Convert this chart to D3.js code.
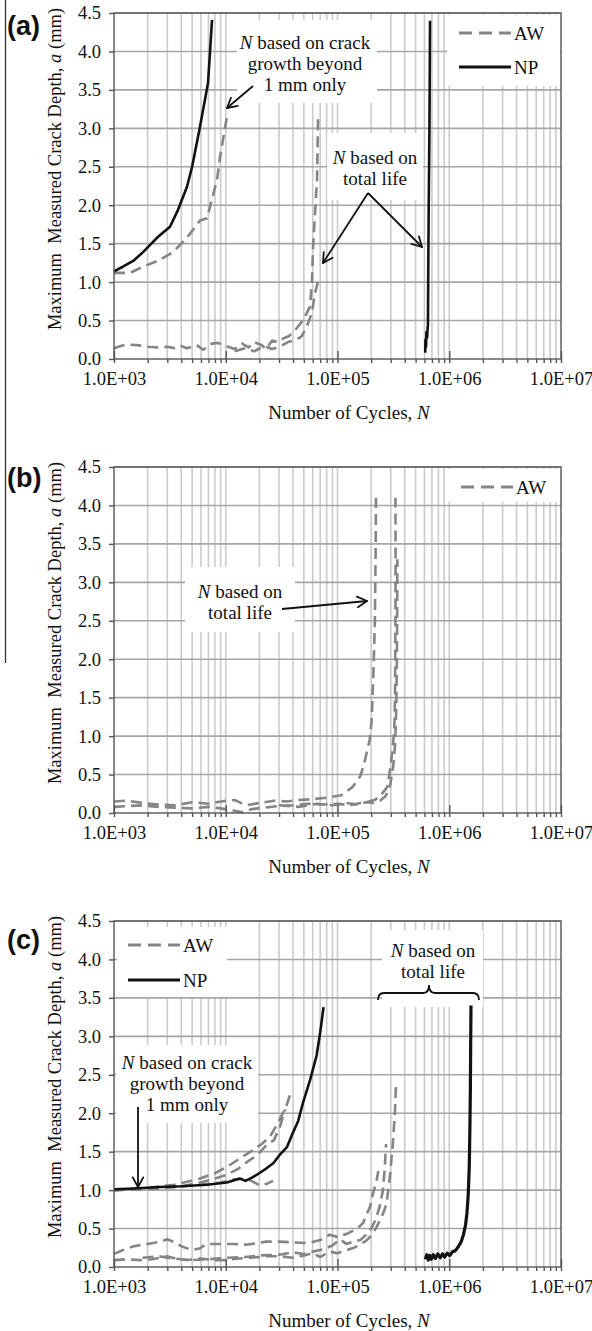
<!DOCTYPE html>
<html><head><meta charset="utf-8">
<script src="https://cdn.jsdelivr.net/npm/d3@7"></script>
<style>
body{margin:0;background:#fff}
svg{display:block}
svg text{font-family:'Liberation Serif','Times New Roman',serif;fill:#111}
svg text.plabel{font-family:'Liberation Sans',Arial,sans-serif;font-weight:bold}
</style>
</head><body><div id="chart"></div>
<script>
// ---- axis ticks ----
const xTicks = [1e3, 1e4, 1e5, 1e6, 1e7];
const xTickLabels = ["1.0E+03", "1.0E+04", "1.0E+05", "1.0E+06", "1.0E+07"];
const yTicks = [0, 0.5, 1, 1.5, 2, 2.5, 3, 3.5, 4, 4.5];
const yTickLabels = ["0.0", "0.5", "1.0", "1.5", "2.0", "2.5", "3.0", "3.5", "4.0", "4.5"];

// ---- panel (a): [cycles N, crack depth a (mm)] ----
const npA_growth = [[1000,1.14],[1200,1.2],[1500,1.28],[1820,1.39],[2480,1.59],[3170,1.72],[3740,1.94],[4500,2.24],[5000,2.5],[5880,3.02],[6940,3.59],[7540,4.41]];
const awA_growth = [[1000,1.12],[1390,1.12],[1820,1.2],[2580,1.29],[3370,1.39],[4320,1.55],[5100,1.68],[5880,1.8],[6800,1.83],[7500,2.07],[8350,2.33],[8900,2.63],[10300,3.17]];
const awA_total1 = [[1000,0.14],[1150,0.17],[1300,0.19],[1600,0.18],[2000,0.16],[2500,0.15],[3000,0.16],[3500,0.14],[4000,0.17],[4500,0.14],[5500,0.18],[6300,0.12],[7500,0.2],[8500,0.21],[10000,0.17],[12000,0.13],[14000,0.2],[16000,0.15],[18000,0.22],[21000,0.18],[23000,0.13],[26000,0.24],[29000,0.22],[33000,0.27],[37000,0.3],[42000,0.38],[49000,0.5],[56800,0.68],[59200,1.03],[60500,1.46],[62900,1.9],[65600,2.33],[67000,3.15]];
const awA_total2 = [[12000,0.1],[15000,0.14],[18000,0.1],[22000,0.17],[26000,0.13],[30500,0.16],[36000,0.22],[43000,0.25],[48000,0.3],[53000,0.42],[59000,0.6],[63000,0.86],[67500,1.03]];
const npA_total = [[610000,0.08],[612000,0.25],[620000,0.16],[625000,0.35],[635000,0.28],[640000,0.4],[645000,0.44],[648000,1.0],[655000,2.0],[665000,3.0],[673000,4.4]];

// ---- panel (b) ----
const awB1 = [[1000,0.15],[1300,0.16],[1800,0.13],[2500,0.11],[3500,0.1],[5000,0.14],[7000,0.12],[9000,0.15],[12000,0.17],[15000,0.1],[20000,0.13],[27000,0.16],[35000,0.15],[45000,0.17],[60000,0.18],[80000,0.2],[108000,0.23],[137000,0.34],[160000,0.48],[173000,0.64],[194000,0.95],[202000,1.2],[210000,1.86],[216000,2.5],[219000,3.3],[221000,4.1]];
const awB2 = [[1000,0.08],[1300,0.09],[1800,0.1],[2500,0.08],[3500,0.07],[5000,0.06],[7000,0.08],[9000,0.06],[12000,0.03],[14000,0.01],[17000,0.05],[22000,0.07],[30000,0.09],[40000,0.1],[55000,0.12],[75000,0.11],[100000,0.12],[130000,0.1],[160000,0.13],[190000,0.15],[215000,0.17],[236000,0.21],[260000,0.28],[279000,0.34],[298000,0.6],[312000,0.85],[322000,1.08],[327000,1.5],[330000,2.5],[331000,3.3],[330000,4.1]];
const awB3 = [[30000,0.1],[45000,0.08],[65000,0.12],[90000,0.1],[120000,0.13],[150000,0.11],[180000,0.14],[210000,0.13],[240000,0.16],[270000,0.22],[295000,0.35],[315000,0.6],[328000,0.9],[336000,1.4],[340000,2.0],[342000,2.6],[343000,3.3]];

// ---- panel (c) ----
const npC_growth = [[1000,1.01],[1500,1.02],[2580,1.04],[4000,1.05],[6800,1.07],[10200,1.1],[13400,1.15],[15000,1.12],[17000,1.16],[19000,1.2],[23000,1.28],[26600,1.35],[30500,1.46],[35300,1.56],[40000,1.75],[44500,1.9],[49000,2.13],[56800,2.43],[65000,2.75],[70000,3.05],[75000,3.38]];
const awC_growth1 = [[1000,1.0],[2000,1.03],[3500,1.07],[5900,1.15],[8000,1.22],[10200,1.3],[13000,1.4],[17500,1.52],[21000,1.6],[25000,1.7],[30000,1.9],[35000,2.1],[38000,2.26]];
const awC_growth2 = [[1000,1.0],[2500,1.02],[4000,1.05],[6000,1.1],[8000,1.15],[10200,1.2],[13000,1.28],[16000,1.38],[19000,1.45],[23000,1.58],[27000,1.65],[31000,1.85],[34000,2.05]];
const awC_growth3 = [[1000,1.0],[3000,1.03],[6000,1.07],[9000,1.1],[12000,1.14],[15000,1.15],[17000,1.12],[19000,1.08],[21000,1.06],[24000,1.09],[26500,1.12]];
const awC_total1 = [[1000,0.09],[1300,0.1],[1700,0.09],[2200,0.1],[3000,0.14],[3800,0.1],[4500,0.09],[6000,0.11],[8000,0.09],[10000,0.09],[13000,0.11],[17000,0.12],[23000,0.14],[30000,0.14],[40000,0.12],[50000,0.15],[60000,0.18],[70000,0.13],[85000,0.2],[100000,0.18],[121000,0.22],[140000,0.25],[158000,0.29],[180000,0.34],[195000,0.39],[220000,0.5],[240000,0.61],[260000,0.72],[275000,0.83],[294000,1.17],[313000,1.61],[327000,2.04],[333000,2.34]];
const awC_total2 = [[1000,0.17],[1200,0.22],[1500,0.27],[2000,0.3],[2600,0.33],[3000,0.36],[3500,0.32],[4000,0.27],[5000,0.22],[5800,0.24],[6800,0.3],[8000,0.3],[11600,0.3],[15000,0.29],[19000,0.31],[23000,0.33],[30000,0.33],[40000,0.32],[55000,0.31],[70000,0.35],[85000,0.42],[100000,0.39],[125000,0.44],[150000,0.5],[169000,0.57],[195000,0.78],[208000,0.96],[222000,1.1],[232000,1.25]];
const awC_total3 = [[1800,0.12],[2500,0.14],[3000,0.12],[4000,0.1],[5000,0.09],[7000,0.1],[10000,0.12],[15000,0.13],[20000,0.15],[30000,0.16],[40000,0.19],[50000,0.17],[60000,0.2],[75000,0.23],[90000,0.28],[105000,0.36],[120000,0.3],[140000,0.33],[160000,0.35],[180000,0.42],[200000,0.5],[220000,0.62],[240000,0.8],[255000,1.0],[265000,1.3],[272000,1.6]];
const npC_total = [[610000,0.1],[630000,0.16],[650000,0.09],[670000,0.15],[690000,0.1],[720000,0.16],[750000,0.11],[790000,0.17],[830000,0.12],[870000,0.17],[910000,0.13],[960000,0.18],[1010000,0.15],[1070000,0.2],[1130000,0.21],[1200000,0.26],[1280000,0.33],[1340000,0.42],[1400000,0.55],[1440000,0.7],[1480000,0.95],[1510000,1.3],[1530000,1.8],[1545000,2.3],[1555000,2.9],[1565000,3.4]];

// ---- layout ----
const W = 592, H = 1331;
const plotLeft = 114, plotW = 447, plotH = 346;
const AW_COLOR = "#858585", NP_COLOR = "#111";
const DASH = "11,6";

const svg = d3.select("#chart").append("svg").attr("width", W).attr("height", H);

const x = d3.scaleLog().domain([1e3, 1e7]).range([0, plotW]);
const y = d3.scaleLinear().domain([0, 4.5]).range([plotH, 0]);
const line = d3.line().x(d => x(d[0])).y(d => y(d[1]));

const minorTicks = [];
[1e3, 1e4, 1e5, 1e6].forEach(d => { for (let k = 2; k <= 9; k++) minorTicks.push(d * k); });

// left border line of the figure
svg.append("line").attr("x1", 5.5).attr("x2", 5.5).attr("y1", 0).attr("y2", 663)
  .attr("stroke", "#333").attr("stroke-width", 1.3);

function arrow(g, x1, y1, x2, y2, head = 11) {
  g.append("line").attr("x1", x1).attr("y1", y1).attr("x2", x2).attr("y2", y2)
    .attr("stroke", "#111").attr("stroke-width", 1.8);
  const ang = Math.atan2(y2 - y1, x2 - x1);
  [0.5, -0.5].forEach(s => {
    g.append("line").attr("x1", x2).attr("y1", y2)
      .attr("x2", x2 - head * Math.cos(ang + s)).attr("y2", y2 - head * Math.sin(ang + s))
      .attr("stroke", "#111").attr("stroke-width", 1.8).attr("stroke-linecap", "round");
  });
}

function noteText(g, cx, y0, lines) {
  lines.forEach((ln, i) => {
    const t = g.append("text").attr("x", cx).attr("y", y0 + i * 21)
      .attr("text-anchor", "middle").attr("font-size", 19);
    if (ln.startsWith("N ")) {
      t.append("tspan").attr("font-style", "italic").text("N");
      t.append("tspan").text(ln.slice(1));
    } else t.text(ln);
  });
}

function panel(cfg) {
  const g = svg.append("g").attr("transform", `translate(${plotLeft},${cfg.top})`);

  // grid
  g.append("g").selectAll("line").data(minorTicks.concat([1e4, 1e5, 1e6])).join("line")
    .attr("x1", d => x(d)).attr("x2", d => x(d)).attr("y1", 0).attr("y2", plotH)
    .attr("stroke", "#cbcbcb").attr("stroke-width", 1.6);
  g.append("g").selectAll("line").data(yTicks.slice(1)).join("line")
    .attr("x1", 0).attr("x2", plotW).attr("y1", d => y(d)).attr("y2", d => y(d))
    .attr("stroke", "#a6a6a6").attr("stroke-width", 1.6);

  // white boxes behind legend and notes
  cfg.boxes.forEach(b => g.append("rect").attr("x", b[0]).attr("y", b[1])
    .attr("width", b[2] - b[0]).attr("height", b[3] - b[1]).attr("fill", "#fff"));

  // data
  cfg.series.forEach(s => {
    g.append("path").datum(s.data).attr("d", line).attr("fill", "none")
      .attr("stroke", s.type === "AW" ? AW_COLOR : NP_COLOR)
      .attr("stroke-width", s.width || 2.6)
      .attr("stroke-dasharray", s.type === "AW" ? DASH : null)
      .attr("stroke-linejoin", "round");
  });

  // frame
  g.append("rect").attr("x", 0).attr("y", 0).attr("width", plotW).attr("height", plotH)
    .attr("fill", "none").attr("stroke", "#555").attr("stroke-width", 1.4);

  // axes
  const yAx = g.append("g").call(d3.axisLeft(y).tickValues(yTicks).tickSize(5).tickPadding(8)
    .tickFormat((d, i) => yTickLabels[i]));
  const xAx = g.append("g").attr("transform", `translate(0,${plotH})`)
    .call(d3.axisBottom(x).tickValues(xTicks).tickSize(4).tickPadding(9)
      .tickFormat((d, i) => xTickLabels[i]));
  const xMin = g.append("g").attr("transform", `translate(0,${plotH})`)
    .call(d3.axisBottom(x).tickValues(minorTicks).tickSize(4).tickFormat(""));
  const xUp = g.append("g").attr("transform", `translate(0,${plotH})`)
    .call(d3.axisBottom(x).tickValues(xTicks).tickSize(-8).tickFormat(""));
  [yAx, xAx, xMin, xUp].forEach(a => {
    a.select(".domain").remove();
    a.selectAll("line").attr("stroke", "#555").attr("stroke-width", 1.4);
    a.selectAll("text").attr("font-size", 18.5);
  });

  // axis titles
  const xt = g.append("text").attr("x", 235).attr("y", plotH + 60)
    .attr("text-anchor", "middle").attr("font-size", 19);
  xt.append("tspan").text("Number of Cycles, ");
  xt.append("tspan").attr("font-style", "italic").text("N");

  const yt = g.append("text").attr("transform", `translate(-53,${plotH / 2 - 17}) rotate(-90)`)
    .attr("text-anchor", "middle").attr("font-size", 18.5).style("white-space", "pre");
  yt.append("tspan").text("Maximum  Measured Crack Depth, ");
  yt.append("tspan").attr("font-style", "italic").text("a");
  yt.append("tspan").text(" (mm)");

  // panel label
  svg.append("text").attr("class", "plabel").attr("x", 7).attr("y", cfg.top + cfg.labelDy)
    .attr("font-size", 27).text(cfg.label);

  // legend
  cfg.legend.forEach(l => {
    g.append("line").attr("x1", l.x1).attr("x2", l.x1 + 52).attr("y1", l.y).attr("y2", l.y)
      .attr("stroke", l.type === "AW" ? AW_COLOR : NP_COLOR).attr("stroke-width", 3)
      .attr("stroke-dasharray", l.type === "AW" ? "13,7" : null);
    g.append("text").attr("x", l.x1 + 55).attr("y", l.y).attr("dy", "0.35em")
      .attr("font-size", 19).text(l.type);
  });

  cfg.notes(g);
}

// (a)
panel({
  top: 13, label: "(a)", labelDy: 22,
  boxes: [[333, 2, 446, 73], [123, 7, 263, 90], [213, 120, 309, 187]],
  series: [
    { type: "AW", data: awA_total2 }, { type: "AW", data: awA_total1 }, { type: "AW", data: awA_growth },
    { type: "NP", data: npA_growth }, { type: "NP", data: npA_total }
  ],
  legend: [{ type: "AW", x1: 345, y: 20 }, { type: "NP", x1: 345, y: 54 }],
  notes: g => {
    noteText(g, 191, 36, ["N based on crack", "growth beyond", "1 mm only"]);
    arrow(g, 139, 73, 113, 95);
    noteText(g, 261, 151, ["N based on", "total life"]);
    arrow(g, 254, 180, 209, 250);
    arrow(g, 254, 180, 308, 234);
  }
});

// (b)
panel({
  top: 467, label: "(b)", labelDy: 20,
  boxes: [[333, 2, 446, 35], [71, 100, 181, 165]],
  series: [{ type: "AW", data: awB3 }, { type: "AW", data: awB2 }, { type: "AW", data: awB1 }],
  legend: [{ type: "AW", x1: 347, y: 20 }],
  notes: g => {
    noteText(g, 126, 131, ["N based on", "total life"]);
    arrow(g, 168, 142, 253, 134);
  }
});

// (c)
panel({
  top: 921, label: "(c)", labelDy: 28,
  boxes: [[3, 6, 113, 76], [2, 124, 144, 202], [268, 9, 369, 86]],
  series: [
    { type: "AW", data: awC_total1 }, { type: "AW", data: awC_total2 }, { type: "AW", data: awC_total3 },
    { type: "AW", data: awC_growth1 }, { type: "AW", data: awC_growth2 }, { type: "AW", data: awC_growth3 },
    { type: "NP", data: npC_growth }, { type: "NP", data: npC_total, width: 3.2 }
  ],
  legend: [{ type: "AW", x1: 14, y: 24 }, { type: "NP", x1: 14, y: 59 }],
  notes: g => {
    noteText(g, 73, 148, ["N based on crack", "growth beyond", "1 mm only"]);
    arrow(g, 24, 186, 24, 266);
    noteText(g, 319, 36, ["N based on", "total life"]);
    g.append("path")
      .attr("d", "M264,79 Q264,72 270,72 L309,72 Q315,72 315,64 Q315,72 321,72 L359,72 Q365,72 365,79")
      .attr("fill", "none").attr("stroke", "#111").attr("stroke-width", 1.8);
  }
});
</script>
</body></html>
